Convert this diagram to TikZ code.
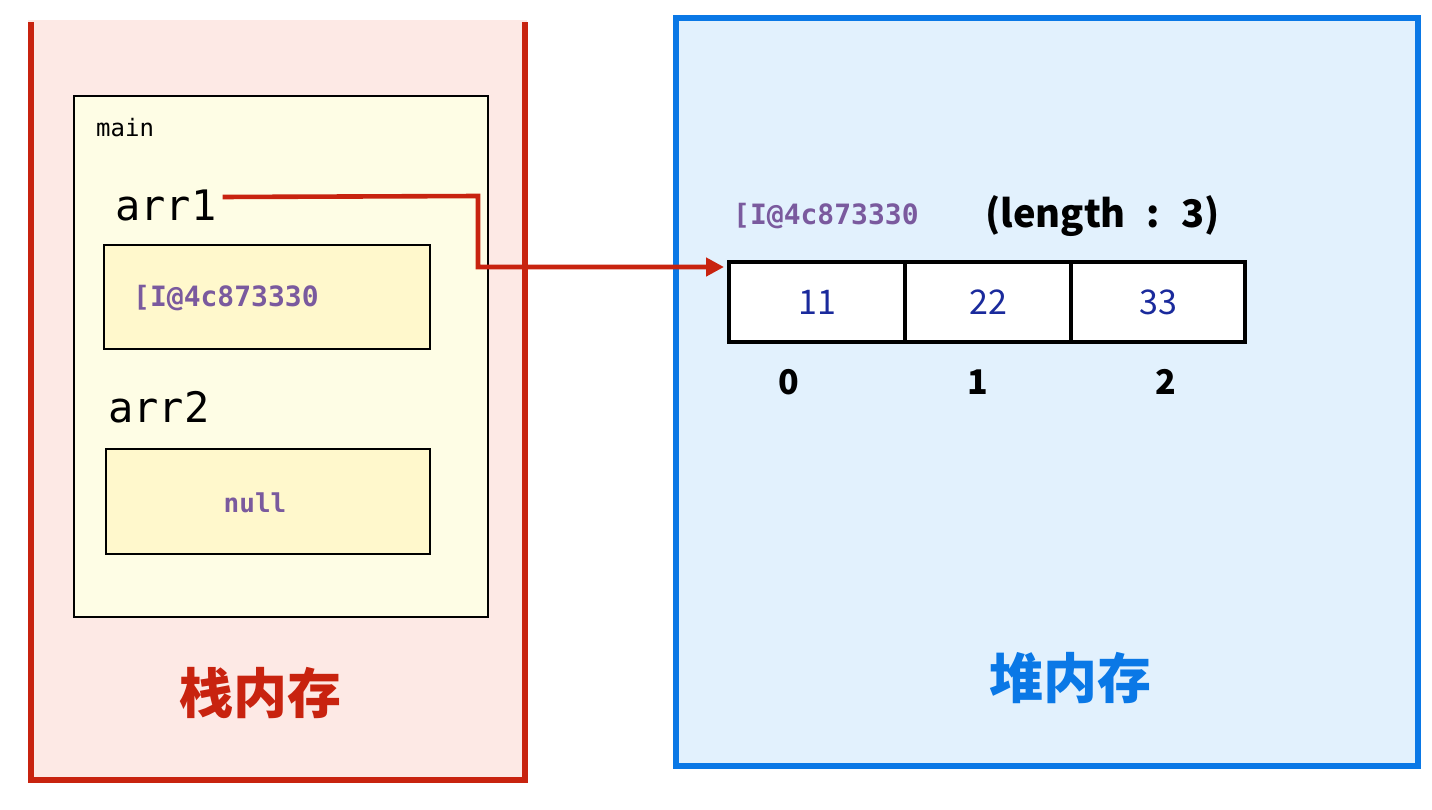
\documentclass[tikz,border=0pt]{standalone}
\usepackage{fontspec}
\setmonofont{DejaVu Sans Mono}
\newfontfamily\cjk{Noto Sans CJK SC}
\usetikzlibrary{arrows.meta,calc}
\definecolor{stackred}{HTML}{C8230F}
\definecolor{stackfill}{HTML}{FDE9E5}
\definecolor{heapblue}{HTML}{0A78E6}
\definecolor{heapfill}{HTML}{E2F1FD}
\definecolor{mainfill}{HTML}{FEFDE5}
\definecolor{slotfill}{HTML}{FFF8CC}
\definecolor{addr}{HTML}{7A5A9E}
\definecolor{numblue}{HTML}{1A2A9C}
\tikzset{
  frame/.style={draw=black,line width=2.6pt,inner sep=0pt},
  cell/.style={draw=black,line width=4.6pt,fill=white,minimum width=170,minimum height=80,inner sep=0pt},
  mono/.style={font=\ttfamily\fontsize{#1}{#1}\selectfont,inner sep=0pt},
  addrtext/.style={font=\ttfamily\bfseries\fontsize{28}{28}\selectfont,text=addr,inner sep=0pt},
  sanstext/.style={font=\cjk\fontsize{#1}{#1}\selectfont,inner sep=0pt},
  idx/.style={font=\cjk\bfseries\fontsize{34}{34}\selectfont,inner sep=0pt},
  title/.style={font=\cjk\bfseries\fontsize{54}{54}\selectfont,inner sep=0pt},
  ptr/.style={draw=stackred,line width=4.6pt,-{Triangle[length=18pt,width=18pt]}}
}
\begin{document}
\begin{tikzpicture}[x=1pt,y=-1pt]
\useasboundingbox (0,0) rectangle (1432,809);
\fill[white] (0,0) rectangle (1432,809);
% stack memory
\fill[stackfill] (28,20) rectangle (527,782);
\draw[stackred,line width=6.5pt] (31,22) -- (31,780) -- (525,780) -- (525,22);
% heap memory
\node[draw=heapblue,fill=heapfill,line width=6.5pt,minimum width=742,minimum height=748,inner sep=0pt] (heap) at (1047,392) {};
% main frame
\node[frame,fill=mainfill,minimum width=414,minimum height=521] (main) at (281,356.5) {};
\node[mono=24,anchor=base west] (mainlbl) at (96,136) {main};
\node[mono=42,anchor=base west] (arr1) at (115,220) {arr1};
\node[frame,fill=slotfill,minimum width=326,minimum height=104] (slot1) at (267,297) {};
\node[addrtext,anchor=west] (v1) at (133,298) {[I@4c873330};
\node[mono=42,anchor=base west] (arr2) at (108,422) {arr2};
\node[frame,fill=slotfill,minimum width=324,minimum height=105] (slot2) at (268,501.5) {};
\node[font=\ttfamily\bfseries\fontsize{26}{26}\selectfont,text=addr,inner sep=0pt] (v2) at (255,503) {null};
\node[title,text=stackred] (stacklbl) at (260,693) {栈内存};
% heap array
\node[addrtext,anchor=west] (haddr) at (733,216) {[I@4c873330};
\node[font=\cjk\bfseries\fontsize{38}{38}\selectfont,anchor=west,inner sep=0pt] (len) at (985,216) {(length\hspace{0.55em}:\hspace{0.55em}3)};
\node[cell,minimum width=176] (c0) at (817,302) {};
\node[cell,minimum width=166] (c1) at (988,302) {};
\node[cell,minimum width=174] (c2) at (1158,302) {};
\node[sanstext=34,text=numblue] (n0) at (c0) {11};
\node[sanstext=34,text=numblue] (n1) at (c1) {22};
\node[sanstext=34,text=numblue] (n2) at (c2) {33};
\node[idx] (i0) at (789,382) {0};
\node[idx] (i1) at (978,382) {1};
\node[idx] (i2) at (1166,382) {2};
\node[title,text=heapblue] (heaplbl) at (1070,678) {堆内存};
% pointer
\coordinate (bend) at (478,196);
\coordinate (tip) at (724,267);
\draw[ptr] (arr1.east) ++(6,-8) -- (bend) |- (tip);
\end{tikzpicture}
\end{document}
